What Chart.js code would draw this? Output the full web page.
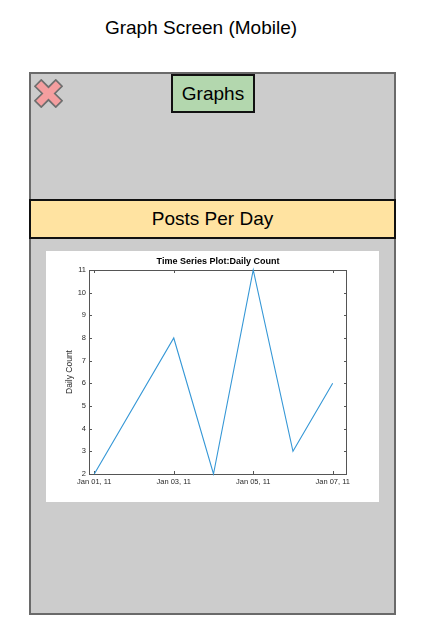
<!DOCTYPE html>
<html>
<head>
<meta charset="utf-8">
<script src="https://cdn.jsdelivr.net/npm/chart.js@4/dist/chart.umd.min.js"></script>
<style>
  html, body { margin:0; padding:0; background:#fff; width:422px; height:640px; overflow:hidden; font-family:"Liberation Sans", Arial, Helvetica, sans-serif; }
  .abs { position:absolute; box-sizing:border-box; }
  #pageTitle { left:0; top:17px; width:402px; text-align:center; font-size:19px; color:#000; line-height:22px; }
  #phone { left:29px; top:72px; width:367px; height:543px; background:#cccccc; border:2px solid #6a6a6a; }
  #btn { left:171px; top:74px; width:84px; height:39px; background:#b3d7ae; border:2px solid #111; font-size:19px; text-align:center; line-height:35px; color:#000; }
  #banner { left:29px; top:199px; width:367px; height:40px; background:#ffe3a1; border:2px solid #111; font-size:19px; text-align:center; line-height:36px; color:#000; }
  #panel { left:46px; top:251px; width:333px; height:251px; background:#fff; }
  #close { left:34px; top:79px; width:29px; height:29px; }
</style>
</head>
<body>
<div id="pageTitle" class="abs">Graph Screen (Mobile)</div>
<div id="phone" class="abs"></div>
<svg id="close" class="abs" viewBox="-1 -1 30 30">
  <polygon points="0,6.5 6.5,0 14,7.5 21.5,0 28,6.5 20.5,14 28,21.5 21.5,28 14,20.5 6.5,28 0,21.5 7.5,14" fill="#f49e9f" stroke="#6e6e6e" stroke-width="1.8" stroke-linejoin="miter"/>
</svg>
<div id="btn" class="abs">Graphs</div>
<div id="banner" class="abs">Posts Per Day</div>
<div id="panel" class="abs"><canvas id="c" width="333" height="251" style="width:333px;height:251px;display:block"></canvas></div>
<script>
// Data (day of January 2011) and daily counts
const days = [1, 3, 4, 5, 6, 7];
const counts = [2, 8, 2, 11, 3, 6];
// Tick positions and labels
const tickDays = [1, 3, 5, 7];
const tickLabels = ["Jan 01, 11", "Jan 03, 11", "Jan 05, 11", "Jan 07, 11"];
const yTicks = [2, 3, 4, 5, 6, 7, 8, 9, 10, 11];
const chartTitle = "Time Series Plot:Daily Count";
const yTitle = "Daily Count";
const xMin = 0.867, xMax = 7.36, yMin = 2, yMax = 11;

const axisColor = '#555';
const textColor = '#2a2a2a';
const FONT = '"Liberation Sans", Arial, Helvetica, sans-serif';

const boxPlugin = {
  id: 'boxTicks',
  beforeDatasetsDraw(chart) {
    const {ctx, chartArea: a, scales} = chart;
    ctx.save();
    ctx.strokeStyle = axisColor;
    ctx.lineWidth = 1;
    ctx.strokeRect(Math.round(a.left) + 0.5, Math.round(a.top) + 0.5, Math.round(a.right - a.left) - 1, Math.round(a.bottom - a.top));
    const L = 3;
    ctx.beginPath();
    scales.x.ticks.forEach(t => {
      const px = Math.round(scales.x.getPixelForValue(t.value)) + 0.5;
      ctx.moveTo(px, a.bottom); ctx.lineTo(px, a.bottom - L);
      ctx.moveTo(px, a.top); ctx.lineTo(px, a.top + L);
    });
    scales.y.ticks.forEach(t => {
      const py = Math.round(scales.y.getPixelForValue(t.value)) + 0.5;
      ctx.moveTo(a.left, py); ctx.lineTo(a.left + L, py);
      ctx.moveTo(a.right, py); ctx.lineTo(a.right - L, py);
    });
    ctx.stroke();
    ctx.restore();
  },
  afterDraw(chart) {
    const {ctx, chartArea: a} = chart;
    ctx.save();
    ctx.fillStyle = '#000';
    ctx.font = 'bold 9px ' + FONT;
    ctx.textAlign = 'center';
    ctx.textBaseline = 'middle';
    ctx.fillText(chartTitle, (a.left + a.right) / 2, 11);
    ctx.restore();
  }
};

new Chart(document.getElementById('c'), {
  type: 'line',
  data: {
    datasets: [{
      data: days.map((d, i) => ({x: d, y: counts[i]})),
      borderColor: '#3597d6',
      borderWidth: 1.1,
      pointRadius: 0,
      tension: 0,
      fill: false,
      clip: false
    }]
  },
  options: {
    responsive: false,
    animation: false,
    devicePixelRatio: 1,
    layout: { padding: { top: 19, right: 32, left: 0, bottom: 0 } },
    plugins: { legend: { display: false }, tooltip: { enabled: false }, title: { display: false } },
    scales: {
      x: {
        type: 'linear',
        min: xMin, max: xMax,
        afterBuildTicks: s => { s.ticks = tickDays.map(v => ({value: v})); },
        afterFit: s => { s.height = 28; },
        grid: { display: false, drawTicks: false },
        border: { display: false },
        ticks: {
          padding: 3,
          color: textColor,
          font: { size: 7.5, family: FONT },
          maxRotation: 0, autoSkip: false,
          callback: v => { const i = tickDays.indexOf(v); return i >= 0 ? tickLabels[i] : ''; }
        }
      },
      y: {
        type: 'linear',
        min: yMin, max: yMax,
        afterBuildTicks: s => { s.ticks = yTicks.map(v => ({value: v})); },
        afterFit: s => { s.width = 43; },
        grid: { display: false, drawTicks: false },
        border: { display: false },
        title: { display: true, text: yTitle, color: textColor, font: { size: 8.5, family: FONT }, padding: { top: 19, bottom: 0 } },
        ticks: { padding: 3, color: textColor, font: { size: 7.5, family: FONT } }
      }
    }
  },
  plugins: [boxPlugin]
});
</script>
</body>
</html>
